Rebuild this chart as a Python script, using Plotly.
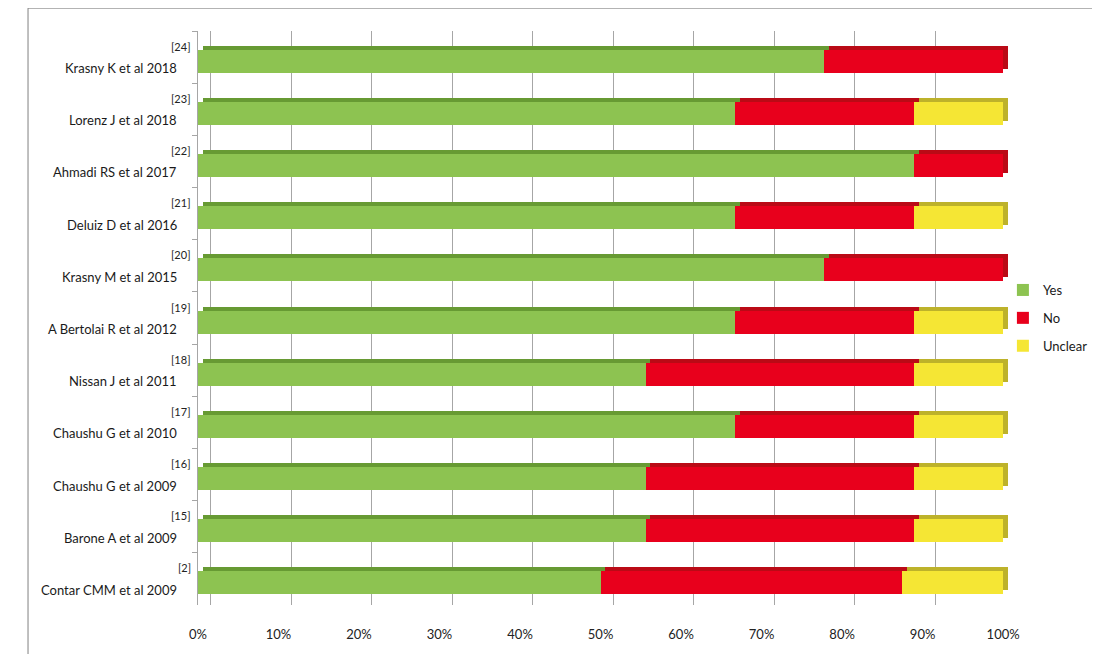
import plotly.graph_objects as go

studies = ["Krasny K et al 2018", "Lorenz J et al 2018", "Ahmadi RS et al 2017",
           "Deluiz D et al 2016", "Krasny M et al 2015", "A Bertolai R et al 2012",
           "Nissan J et al 2011", "Chaushu G et al 2010", "Chaushu G et al 2009",
           "Barone A et al 2009", "Contar CMM et al 2009"]
refs = ["[24]", "[23]", "[22]", "[21]", "[20]", "[19]", "[18]", "[17]", "[16]", "[15]", "[2]"]
yes = [77.8, 66.7, 88.9, 66.7, 77.8, 66.7, 55.6, 66.7, 55.6, 55.6, 50.0]
no = [22.2, 22.2, 11.1, 22.2, 22.2, 22.2, 33.3, 22.2, 33.3, 33.3, 37.5]
unclear = [0.0, 11.1, 0.0, 11.1, 0.0, 11.1, 11.1, 11.1, 11.1, 11.1, 12.5]
xticks = [0, 10, 20, 30, 40, 50, 60, 70, 80, 90, 100]
xticklabels = [f"{v}%" for v in xticks]

FONT = "Lato"
series = [("Yes", yes, "#8DC351", "#679A33"),
          ("No", no, "#E8001C", "#BA0A16"),
          ("Unclear", unclear, "#F5E634", "#BDB22A")]

fig = go.Figure()
# darker "depth" faces of the 3D bars (top and right side)
for name, vals, col, dark in series:
    fig.add_trace(go.Bar(
        y=studies, x=vals, orientation="h", xaxis="x", yaxis="y",
        marker=dict(color=dark, line=dict(width=0)), width=0.44,
        showlegend=False, hoverinfo="skip", legendgroup=name,
    ))

# invisible trace to activate the back-wall gridline axis
fig.add_trace(go.Scatter(x=[0, 100], y=[studies[0], studies[0]], xaxis="x2", yaxis="y",
                         mode="markers", marker=dict(opacity=0),
                         showlegend=False, hoverinfo="skip"))

# front faces
for name, vals, col, dark in series:
    fig.add_trace(go.Bar(
        y=studies, x=vals, name=name, orientation="h", xaxis="x3", yaxis="y2",
        marker=dict(color=col, line=dict(width=0)), width=0.44,
        legendgroup=name,
    ))

for s, r in zip(studies, refs):
    fig.add_annotation(x=0, xref="paper", y=s, yref="y", text=r, showarrow=False,
                       xanchor="right", yanchor="middle", xshift=-5, yshift=11,
                       font=dict(family=FONT, size=11, color="#222222"))
    fig.add_annotation(x=0, xref="paper", y=s, yref="y", text=s, showarrow=False,
                       xanchor="right", yanchor="middle", xshift=-19, yshift=-11,
                       font=dict(family=FONT, size=13, color="#1A1A1A"))

# outer frame
fig.add_shape(type="rect", xref="paper", yref="paper",
              x0=-0.2078, x1=1.2, y0=-0.2, y1=1.0399,
              line=dict(color="#808080", width=1), fillcolor="rgba(0,0,0,0)", layer="below")

d = -0.077
fig.update_layout(
    width=1092, height=646,
    margin=dict(l=190, r=84, t=23, b=49, autoexpand=False),
    paper_bgcolor="white", plot_bgcolor="white",
    barmode="stack",
    font=dict(family=FONT, size=12, color="#222222"),
    xaxis=dict(range=[-0.6, 101.0], showticklabels=False, showgrid=False,
               zeroline=False, showline=False, ticks="", automargin=False),
    xaxis2=dict(range=[-1.615, 100.05], overlaying="x", anchor="y",
                tickvals=xticks, showticklabels=False, showgrid=True,
                gridcolor="#A6A6A6", gridwidth=1, zeroline=False, showline=False,
                automargin=False),
    xaxis3=dict(range=[0, 101.6], overlaying="x", anchor="y", tickvals=xticks,
                ticktext=xticklabels, showgrid=False, zeroline=False, showline=False,
                ticks="", ticklabelstandoff=20, automargin=False,
                tickfont=dict(family=FONT, size=13, color="#222222")),
    yaxis=dict(range=[10.5, -0.5], showticklabels=False, showgrid=False,
               showline=True, linecolor="#A6A6A6", linewidth=1,
               ticks="outside", ticklen=5, tickcolor="#A6A6A6", tickson="boundaries",
               zeroline=False, automargin=False),
    yaxis2=dict(range=[10.5 + d, -0.5 + d], overlaying="y", anchor="x",
                showticklabels=False, showgrid=False, showline=False, ticks="",
                zeroline=False, automargin=False),
    legend=dict(x=0.984, y=0.5, xanchor="left", yanchor="middle",
                traceorder="grouped", tracegroupgap=8,
                font=dict(family=FONT, size=13, color="#1A1A1A"),
                itemwidth=30, bgcolor="rgba(0,0,0,0)"),
    showlegend=True,
)

fig.write_html("out.html")
